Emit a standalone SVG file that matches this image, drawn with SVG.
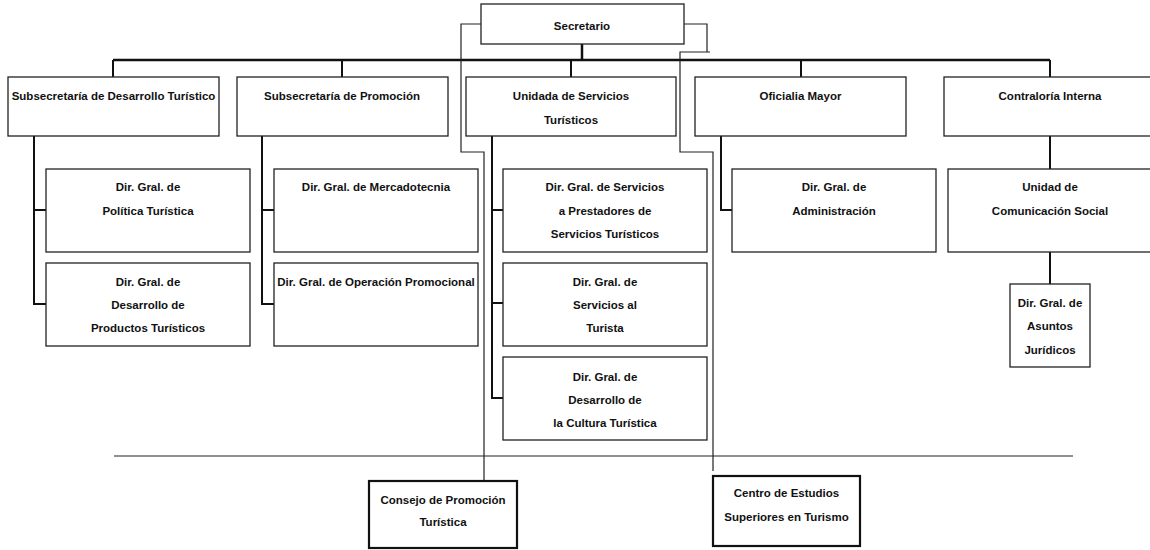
<svg xmlns="http://www.w3.org/2000/svg" width="1150" height="550" viewBox="0 0 1150 550">
<style>
.box{fill:#fff;stroke:#222;stroke-width:1.3}
.bbox{fill:#fff;stroke:#111;stroke-width:2.2}
.t{font-family:"Liberation Sans",Arial,sans-serif;font-weight:bold;font-size:11.5px;fill:#111;text-anchor:middle}
.thick{fill:none;stroke:#111;stroke-width:2.5}
.med{fill:none;stroke:#111;stroke-width:2}
.thin{fill:none;stroke:#222;stroke-width:1.2}
</style>
<rect width="1150" height="550" fill="#fff"/>
<g id="connectors">
<path class="thick" d="M113,60 H1050 M582,44 V60"/>
<path class="med" d="M113,60 V77 M342,60 V77 M571,60 V77 M801,60 V77 M1050,60 V77"/>
<path class="med" d="M34,136 V304 H46 M34,210 H46"/>
<path class="med" d="M262,136 V304 H274 M262,210 H274"/>
<path class="med" d="M492,136 V398 H503 M492,210 H503 M492,303 H503"/>
<path class="med" d="M721,136 V210 H732"/>
<path class="med" d="M1050,136 V169 M1050,252 V284"/>
<path class="thin" d="M481,24 H461 V152 H484 V481"/>
<path class="thin" d="M684,24 H707 V52 M710,52 H680 V152 H713 V471"/>
<path class="thin" d="M114,456 H1073"/>
</g>
<g id="secretario">
<rect class="box" x="481" y="4" width="203" height="40"/>
<text class="t" x="582" y="30">Secretario</text>
</g>
<g id="subsec-desarrollo">
<rect class="box" x="8" y="77" width="211" height="59"/>
<text class="t" x="113.5" y="100">Subsecretaría de Desarrollo Turístico</text>
</g>
<g id="subsec-promocion">
<rect class="box" x="237" y="77" width="211" height="59"/>
<text class="t" x="342" y="100">Subsecretaría de Promoción</text>
</g>
<g id="unidad-servicios">
<rect class="box" x="466" y="77" width="210" height="59"/>
<text class="t" x="571" y="100">Unidada de Servicios</text>
<text class="t" x="571" y="124">Turísticos</text>
</g>
<g id="oficialia">
<rect class="box" x="695" y="77" width="211" height="59"/>
<text class="t" x="800.5" y="100">Oficialia Mayor</text>
</g>
<g id="contraloria">
<rect class="box" x="944" y="77" width="212" height="59"/>
<text class="t" x="1050" y="100">Contraloría Interna</text>
</g>
<g id="politica">
<rect class="box" x="46" y="169" width="204" height="83"/>
<text class="t" x="148" y="191">Dir. Gral. de</text>
<text class="t" x="148" y="215">Política Turística</text>
</g>
<g id="productos">
<rect class="box" x="46" y="263" width="204" height="83"/>
<text class="t" x="148" y="286">Dir. Gral. de</text>
<text class="t" x="148" y="309">Desarrollo de</text>
<text class="t" x="148" y="332">Productos Turísticos</text>
</g>
<g id="mercadotecnia">
<rect class="box" x="274" y="169" width="204" height="83"/>
<text class="t" x="376" y="191">Dir. Gral. de Mercadotecnia</text>
</g>
<g id="operacion">
<rect class="box" x="274" y="263" width="204" height="83"/>
<text class="t" x="376" y="286">Dir. Gral. de Operación Promocional</text>
</g>
<g id="prestadores">
<rect class="box" x="503" y="169" width="204" height="83"/>
<text class="t" x="605" y="191">Dir. Gral. de Servicios</text>
<text class="t" x="605" y="215">a Prestadores de</text>
<text class="t" x="605" y="238">Servicios Turísticos</text>
</g>
<g id="turista">
<rect class="box" x="503" y="263" width="204" height="83"/>
<text class="t" x="605" y="286">Dir. Gral. de</text>
<text class="t" x="605" y="309">Servicios al</text>
<text class="t" x="605" y="332">Turista</text>
</g>
<g id="cultura">
<rect class="box" x="503" y="357" width="204" height="83"/>
<text class="t" x="605" y="381">Dir. Gral. de</text>
<text class="t" x="605" y="404">Desarrollo de</text>
<text class="t" x="605" y="427">la Cultura Turística</text>
</g>
<g id="administracion">
<rect class="box" x="732" y="169" width="204" height="83"/>
<text class="t" x="834" y="191">Dir. Gral. de</text>
<text class="t" x="834" y="215">Administración</text>
</g>
<g id="comunicacion">
<rect class="box" x="948" y="169" width="205" height="83"/>
<text class="t" x="1050" y="191">Unidad de</text>
<text class="t" x="1050" y="215">Comunicación Social</text>
</g>
<g id="juridicos">
<rect class="box" x="1010" y="284" width="80" height="83"/>
<text class="t" x="1050" y="307">Dir. Gral. de</text>
<text class="t" x="1050" y="330">Asuntos</text>
<text class="t" x="1050" y="354">Jurídicos</text>
</g>
<g id="consejo">
<rect class="bbox" x="369" y="481" width="148" height="67"/>
<text class="t" x="443" y="504">Consejo de Promoción</text>
<text class="t" x="443" y="526">Turística</text>
</g>
<g id="centro">
<rect class="bbox" x="713" y="476" width="147" height="70"/>
<text class="t" x="786.5" y="497">Centro de Estudios</text>
<text class="t" x="786.5" y="521">Superiores en Turismo</text>
</g>
</svg>
